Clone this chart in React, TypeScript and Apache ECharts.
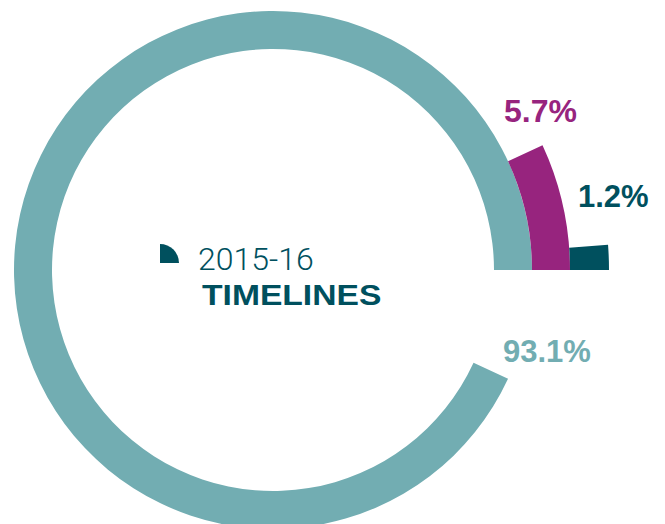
import React, { useEffect, useRef } from "react";
import * as echarts from "echarts";

// Data
const categories = ["On time", "Late", "Very late"];
const values = [93.1, 5.7, 1.2];
const colors = ["#72ADB2", "#97247E", "#00505E"];
const titleYear = "2015-16";
const titleText = "TIMELINES";

const CX = 273;
const CY = 270;

export default function App() {
  const ref = useRef<HTMLDivElement>(null);
  useEffect(() => {
    if (!ref.current) return;
    const chart = echarts.init(ref.current, undefined, { renderer: "svg" });
    const total = values.reduce((a, b) => a + b, 0);
    // outer rings: magenta ring covers the non-primary share, dark ring the last share
    const spans = [values[0], values[1] + values[2], values[2]];
    const radii: [number, number][] = [
      [221, 259],
      [259, 297],
      [297, 336],
    ];
    const series = spans.map((v, i) => ({
      type: "pie",
      name: categories[i],
      center: [CX, CY],
      radius: radii[i],
      startAngle: 0,
      clockwise: false,
      silent: true,
      label: { show: false },
      labelLine: { show: false },
      emphasis: { disabled: true },
      itemStyle: { borderWidth: 0 },
      data: [
        { value: v, name: categories[i], itemStyle: { color: colors[i] } },
        { value: total - v, name: "rest", itemStyle: { color: "rgba(0,0,0,0)" } },
      ],
    }));
    const font = "'Liberation Sans', Arial, Helvetica, sans-serif";
    chart.setOption({
      animation: false,
      series,
      graphic: [
        {
          type: "text",
          style: {
            text: `${values[1]}%`,
            x: 504,
            y: 95,
            fill: colors[1],
            font: `bold 32px ${font}`,
            verticalAlign: "top",
          },
        },
        {
          type: "text",
          style: {
            text: `${values[2]}%`,
            x: 578,
            y: 181,
            fill: colors[2],
            font: `bold 31px ${font}`,
            verticalAlign: "top",
          },
        },
        {
          type: "text",
          style: {
            text: `${values[0]}%`,
            x: 503,
            y: 336,
            fill: colors[0],
            font: `bold 31px ${font}`,
            verticalAlign: "top",
          },
        },
        {
          type: "sector",
          shape: { cx: 160, cy: 263, r: 19, r0: 0, startAngle: -Math.PI / 2, endAngle: 0, clockwise: true },
          style: { fill: colors[2] },
        },
        {
          type: "text",
          style: {
            text: titleYear,
            x: 198,
            y: 243,
            fill: colors[2],
            font: `300 32px Roboto, ${font}`,
            verticalAlign: "top",
          },
        },
        {
          type: "text",
          x: 202,
          y: 281,
          scaleX: 1.16,
          style: {
            text: titleText,
            x: 0,
            y: 0,
            fill: colors[2],
            font: `bold 29px ${font}`,
            verticalAlign: "top",
          },
        },
      ],
    });
    return () => chart.dispose();
  }, []);
  return (
    <div
      ref={ref}
      style={{ position: "fixed", left: 0, top: 0, width: 665, height: 524, background: "#fff" }}
    />
  );
}
